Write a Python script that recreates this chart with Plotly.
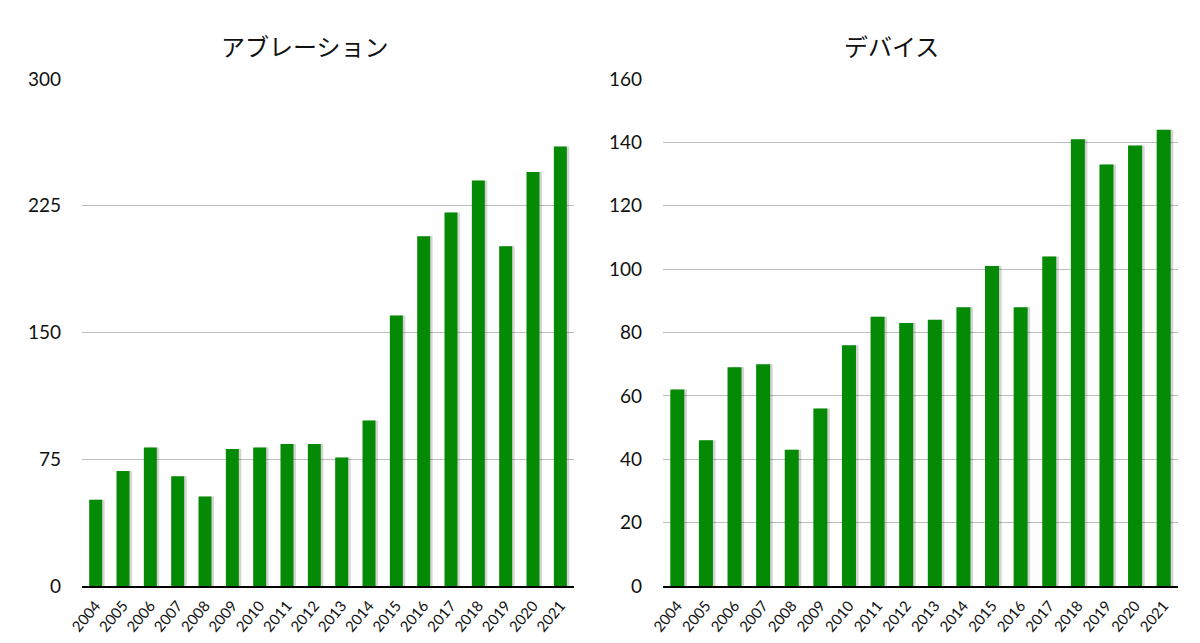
import plotly.graph_objects as go

years = [str(y) for y in range(2004, 2022)]
ablation = [51, 68, 82, 65, 53, 81, 82, 84, 84, 76, 98, 160, 207, 221, 240, 201, 245, 260]
device = [62, 46, 69, 70, 43, 56, 76, 85, 83, 84, 88, 101, 88, 104, 141, 133, 139, 144]

titles = ["アブレーション", "デバイス"]
abl_ticks = [0, 75, 150, 225, 300]
dev_ticks = [0, 20, 40, 60, 80, 100, 120, 140, 160]

GREEN = "#048a04"
SHADOW = "rgba(0,0,0,0.17)"
W, H = 1200, 643

def px(x):
    return x / W

fig = go.Figure()

# soft drop shadow, then the bars
for xa, ya, vals, bw in [("x", "y", ablation, 0.475), ("x2", "y2", device, 0.49)]:
    fig.add_trace(go.Bar(x=years, y=vals, width=bw, offset=-bw / 2 + 0.09,
                         marker=dict(color=SHADOW, line=dict(width=0)),
                         xaxis=xa, yaxis=ya, showlegend=False, hoverinfo="skip"))
    fig.add_trace(go.Bar(x=years, y=vals, width=bw, offset=-bw / 2,
                         marker=dict(color=GREEN, line=dict(width=0)),
                         xaxis=xa, yaxis=ya, showlegend=False))

xcommon = dict(showgrid=False, showline=True, linecolor="black", linewidth=2,
               tickangle=-50, tickfont=dict(family="Lato, sans-serif", size=15, color="#111"),
               ticks="", ticklabelstandoff=3, range=[-0.5, len(years) - 0.5],
               automargin=False)
ycommon = dict(showgrid=True, gridcolor="#bdbdbd", gridwidth=1.4, zeroline=False,
               showline=False, ticks="", ticklabelstandoff=20, automargin=False,
               tickfont=dict(family="Lato, sans-serif", size=19, color="#111"))

top, bottom = 79, 586
fig.update_layout(
    width=W, height=H,
    margin=dict(l=0, r=0, t=top, b=H - bottom),
    plot_bgcolor="white", paper_bgcolor="white",
    barmode="overlay",
    xaxis=dict(domain=[px(82), px(574)], anchor="y", **xcommon),
    xaxis2=dict(domain=[px(663), px(1178)], anchor="y2", **xcommon),
    yaxis=dict(range=[0, 300], tickvals=abl_ticks, anchor="x", **ycommon),
    yaxis2=dict(range=[0, 160], tickvals=dev_ticks, anchor="x2", **ycommon),
)

plot_h = bottom - top
for title, cx in zip(titles, [305, 891]):
    fig.add_annotation(text=title, x=px(cx), y=1 + (top - 46) / plot_h,
                       xref="paper", yref="paper", showarrow=False,
                       xanchor="center", yanchor="middle",
                       font=dict(family="Noto Sans CJK JP", size=24, color="#111"))

# drop the page's default body margin so the figure sits at the window corner
fig.write_html("out.html", config={"displayModeBar": False},
               post_script="document.body.style.margin='0';")
